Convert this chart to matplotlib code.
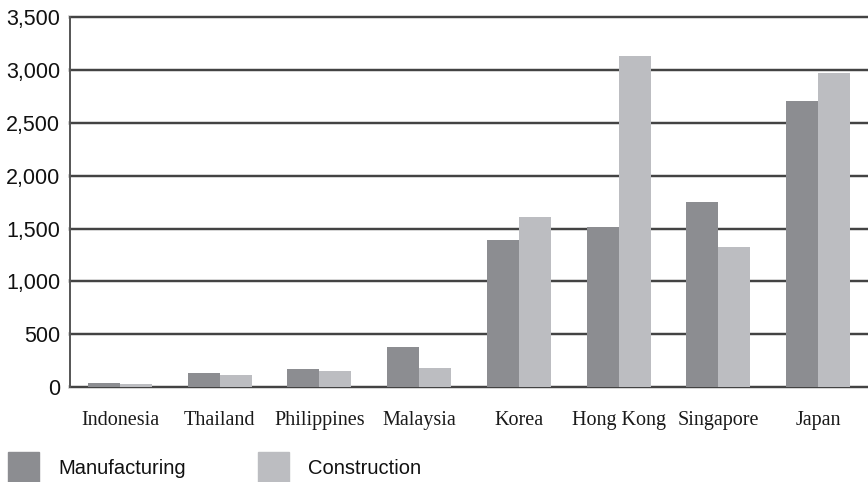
import matplotlib
matplotlib.use("Agg")
import matplotlib.pyplot as plt
from matplotlib.patches import Rectangle
import numpy as np

countries = ["Indonesia", "Thailand", "Philippines", "Malaysia",
             "Korea", "Hong Kong", "Singapore", "Japan"]
manufacturing = [40, 136, 174, 382, 1395, 1518, 1755, 2713]
construction = [28, 117, 155, 183, 1613, 3131, 1328, 2970]
yticks = [0, 500, 1000, 1500, 2000, 2500, 3000, 3500]
ytick_labels = ["0", "500", "1,000", "1,500", "2,000", "2,500", "3,000", "3,500"]
series = ["Manufacturing", "Construction"]

c_manu = "#8c8d91"
c_cons = "#bcbdc1"
sans = ["Liberation Sans", "DejaVu Sans"]
serif = ["Liberation Serif", "DejaVu Serif"]

W, H = 868, 482
fig = plt.figure(figsize=(W / 100, H / 100), dpi=100)
ax = fig.add_axes([70 / W, 1 - 387 / H, 1 - 70 / W, (387 - 17.5) / H])

x = np.arange(len(countries))
w = 0.32
ax.bar(x - w / 2, manufacturing, w, color=c_manu, zorder=3)
ax.bar(x + w / 2, construction, w, color=c_cons, zorder=3)

ax.set_xlim(-0.5, 7.5)
ax.set_ylim(0, 3500)
ax.set_yticks(yticks)
ax.set_yticklabels(ytick_labels, family=sans, fontsize=15.5, color="#111111")
ax.set_xticks(x)
ax.set_xticklabels(countries, family=serif, fontsize=14.5, color="#1a1a1a")
ax.tick_params(axis="y", length=0, pad=7)
ax.tick_params(axis="x", length=0, pad=17)

# horizontal rules with a faint grey shadow
for v in yticks:
    ax.axhline(v, color="#cccccc", lw=2.6, zorder=1, clip_on=False)
    ax.axhline(v, color="#1a1a1a", lw=1.1, zorder=2, clip_on=False)

for s in ["top", "right", "bottom"]:
    ax.spines[s].set_visible(False)
ax.spines["left"].set_color("#555555")
ax.spines["left"].set_linewidth(1.4)

# legend along the bottom edge
for name, col, px in zip(series, [c_manu, c_cons], [8, 258]):
    fig.add_artist(Rectangle((px / W, 0), 31 / W, 30 / H, color=col,
                             transform=fig.transFigure))
    fig.text((px + 50) / W, 4 / H, name, family=sans, fontsize=14.5,
             color="#111111", va="bottom", ha="left")

fig.savefig("out.png", dpi=100)
